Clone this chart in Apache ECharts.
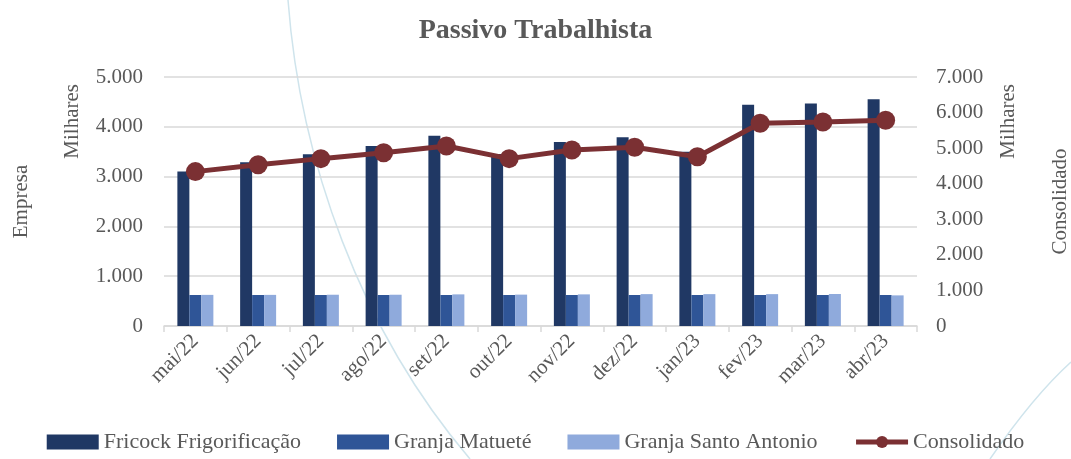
<!DOCTYPE html>
<html>
<head>
<meta charset="utf-8">
<script src="https://cdn.jsdelivr.net/npm/echarts@6/dist/echarts.min.js"></script>
<style>
  html, body { margin: 0; padding: 0; background: #fff; }
  #chart { width: 1071px; height: 459px; }
</style>
</head>
<body>
<div id="chart"></div>
<script>
// meses
const categories = ['mai/22', 'jun/22', 'jul/22', 'ago/22', 'set/22', 'out/22',
  'nov/22', 'dez/22', 'jan/23', 'fev/23', 'mar/23', 'abr/23'];

// valores em milhares
const fricock = [3100, 3290, 3450, 3615, 3820, 3455, 3695, 3790, 3500, 4445, 4470, 4555];
const matuete = [622, 622, 622, 622, 622, 622, 622, 622, 622, 622, 622, 622];
const santoAntonio = [625, 625, 628, 628, 635, 630, 635, 640, 640, 640, 643, 615];
const consolidado = [4340, 4535, 4705, 4870, 5060, 4705, 4950, 5025, 4760, 5700, 5735, 5785];

const FONT = '"Liberation Serif", "DejaVu Serif", serif';
const GREY = '#595959';
const LINE_COLOR = '#7b3033';

// 1.000 / 2.000 ...
const fmt = v => String(v).replace(/\B(?=(\d{3})+(?!\d))/g, '.');

const chart = echarts.init(document.getElementById('chart'));

const options = {
  animation: false,
  backgroundColor: '#fff',
  title: {
    text: 'Passivo Trabalhista',
    left: 'center',
    top: 12,
    textStyle: { fontFamily: FONT, fontSize: 28, fontWeight: 'bold', color: GREY }
  },
  legend: {
    bottom: 1,
    left: 'center',
    itemWidth: 52,
    itemHeight: 15,
    itemGap: 36,
    textStyle: { fontFamily: FONT, fontSize: 22, color: GREY },
    data: [
      { name: 'Fricock Frigorificação', icon: 'rect' },
      { name: 'Granja Matueté', icon: 'rect' },
      { name: 'Granja Santo Antonio', icon: 'rect' },
      { name: 'Consolidado', lineStyle: { width: 5, color: LINE_COLOR }, itemStyle: { color: LINE_COLOR } }
    ]
  },
  grid: { left: 164, right: 154, top: 77, bottom: 133, outerBoundsMode: 'none', containLabel: false },
  xAxis: {
    type: 'category',
    data: categories,
    axisLine: { lineStyle: { color: '#d9d9d9', width: 1.5 } },
    axisTick: { show: true, length: 6, lineStyle: { color: '#d9d9d9', width: 1.5 } },
    axisLabel: { rotate: 45, margin: 12, fontFamily: FONT, fontSize: 21, color: GREY }
  },
  yAxis: [
    {
      type: 'value',
      min: 0, max: 5000, interval: 1000,
      name: 'Empresa',
      nameLocation: 'middle',
      nameRotate: 90,
      nameGap: 132,
      nameTextStyle: { fontFamily: FONT, fontSize: 21, color: GREY },
      axisLabel: { formatter: fmt, margin: 21, fontFamily: FONT, fontSize: 21, color: GREY },
      splitLine: { lineStyle: { color: '#d9d9d9', width: 1.5 } },
      axisLine: { show: false },
      axisTick: { show: false }
    },
    {
      type: 'value',
      min: 0, max: 7000, interval: 1000,
      name: 'Consolidado',
      nameLocation: 'middle',
      nameRotate: 90,
      nameGap: 133,
      nameTextStyle: { fontFamily: FONT, fontSize: 21, color: GREY },
      axisLabel: { formatter: fmt, margin: 19, fontFamily: FONT, fontSize: 21, color: GREY },
      splitLine: { show: false },
      axisLine: { show: false },
      axisTick: { show: false }
    }
  ],
  graphic: [
    // curvas decorativas do fundo
    {
      type: 'bezierCurve', silent: true, z: -1,
      shape: { x1: 288, y1: 0, x2: 470, y2: 459, cpx1: 300, cpy1: 160, cpx2: 360, cpy2: 330 },
      style: { stroke: '#cfe4ec', lineWidth: 1.5, fill: null }
    },
    {
      type: 'bezierCurve', silent: true, z: -1,
      shape: { x1: 1071, y1: 362, x2: 990, y2: 459, cpx1: 1040, cpy1: 390, cpx2: 1010, cpy2: 430 },
      style: { stroke: '#cfe4ec', lineWidth: 1.5, fill: null }
    },
    {
      type: 'text', left: 62, top: 84, rotation: Math.PI / 2,
      style: { text: 'Milhares', font: '21px ' + FONT, fill: GREY }
    },
    {
      type: 'text', left: 998, top: 84, rotation: Math.PI / 2,
      style: { text: 'Milhares', font: '21px ' + FONT, fill: GREY }
    }
  ],
  series: [
    {
      name: 'Fricock Frigorificação', type: 'bar', data: fricock,
      barWidth: 12, barGap: '0%',
      itemStyle: { color: '#203864' }
    },
    {
      name: 'Granja Matueté', type: 'bar', data: matuete,
      barWidth: 12, barGap: '0%',
      itemStyle: { color: '#2f5597' }
    },
    {
      name: 'Granja Santo Antonio', type: 'bar', data: santoAntonio,
      barWidth: 12, barGap: '0%',
      itemStyle: { color: '#8faadc' }
    },
    {
      name: 'Consolidado', type: 'line', yAxisIndex: 1, data: consolidado,
      symbol: 'circle', symbolSize: 19,
      lineStyle: { color: LINE_COLOR, width: 5 },
      itemStyle: { color: LINE_COLOR }
    }
  ]
};

chart.setOption(options);
</script>
</body>
</html>
